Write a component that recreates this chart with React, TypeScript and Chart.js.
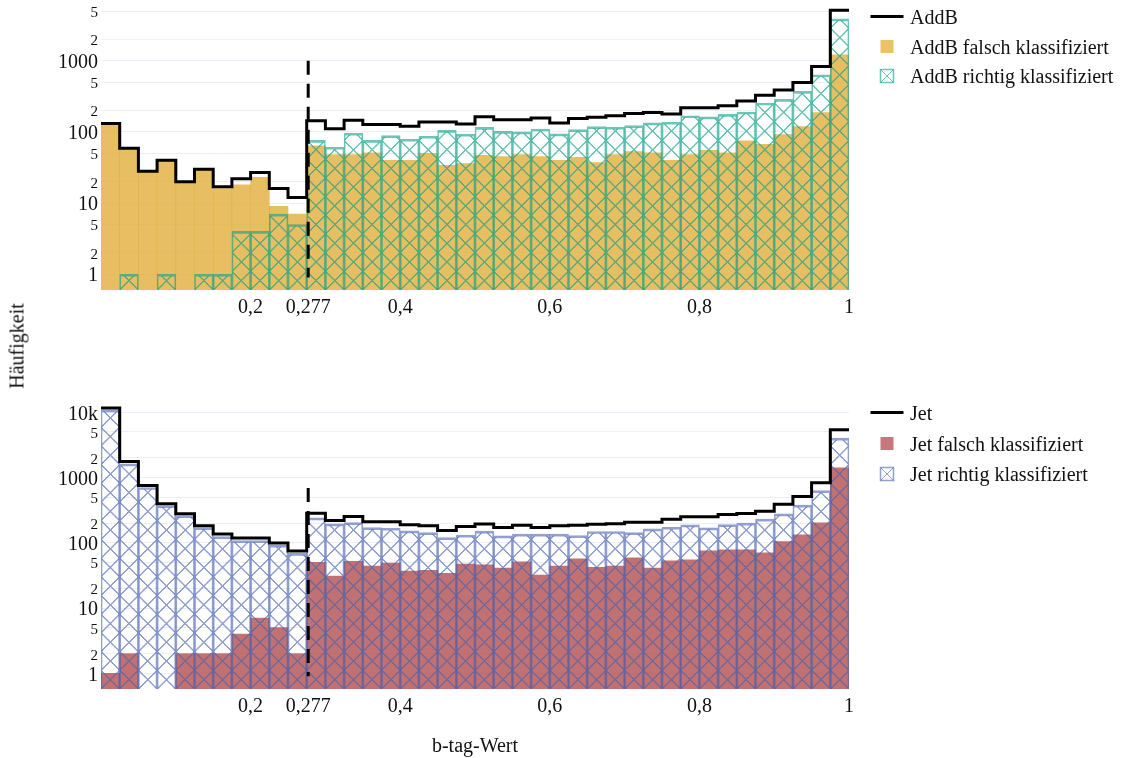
import React, { useEffect, useRef } from "react";
import { Chart, registerables } from "chart.js";

Chart.register(...registerables);

const FONT = "'Liberation Serif', 'Times New Roman', Times, serif";

// Histogram bins (width 0.025), given by their centres
const binCenters = [
  0.0125, 0.0375, 0.0625, 0.0875, 0.1125, 0.1375, 0.1625, 0.1875, 0.2125, 0.2375,
  0.2625, 0.2875, 0.3125, 0.3375, 0.3625, 0.3875, 0.4125, 0.4375, 0.4625, 0.4875,
  0.5125, 0.5375, 0.5625, 0.5875, 0.6125, 0.6375, 0.6625, 0.6875, 0.7125, 0.7375,
  0.7625, 0.7875, 0.8125, 0.8375, 0.8625, 0.8875, 0.9125, 0.9375, 0.9625, 0.9875,
];
const binHalfWidth = 0.0125;

// AddB (top panel)
const addbFalsch = [
  131, 58, 28, 39, 20, 29, 16, 18, 23, 9, 7,
  64, 48, 48, 51, 40, 40, 50, 34,
  36, 47, 45, 48, 45, 40, 44, 37, 48, 53, 51, 40, 48, 55, 51, 75, 67, 92, 119, 187, 1214,
];
const addbRichtig = [
  0, 1, 0, 1, 0, 1, 1, 4, 4, 7, 5,
  76, 61, 96, 76, 89, 79, 87, 105,
  93, 116, 102, 100, 110, 94, 108, 119, 117, 123, 134, 137, 169, 163, 177, 191, 255, 287, 372, 637, 3880,
];
const addbTotal = [
  131, 59, 28, 40, 20, 30, 17, 22, 27, 16, 12,
  144, 111, 146, 127, 127, 120, 138, 138,
  129, 164, 149, 149, 157, 134, 155, 161, 169, 181, 187, 179, 219, 219, 234, 272, 327, 388, 497, 832, 5140,
];

// Jet (bottom panel)
const jetFalsch = [
  1, 2, 0, 0, 2, 2, 2, 4, 7, 5, 2,
  50, 31, 52, 44, 49, 37,
  38, 34, 47, 46, 41, 51, 32, 44, 57, 42, 44, 59, 41, 53, 55, 75, 78, 78, 70, 104, 132, 202, 1410,
];
const jetRichtig = [
  10900, 1620, 703, 372, 261, 171, 124, 108, 108, 92, 69,
  241, 195, 204, 171, 167, 152,
  143, 120, 131, 151, 128, 136, 136, 136, 129, 149, 149, 143, 163, 173, 188, 169, 190, 200, 230, 277, 377, 632, 4020,
];
const jetTotal = [
  11600, 1760, 754, 395, 278, 182, 136, 118, 118, 99, 75,
  284, 219, 252, 211, 211, 189,
  182, 154, 177, 195, 171, 186, 171, 182, 186, 193, 196, 207, 207, 230, 250, 250, 271, 281, 305, 391, 511, 829, 5390,
];

const xTickValues = [0.2, 0.277, 0.4, 0.6, 0.8, 1];
const xTickLabels = ["0,2", "0,277", "0,4", "0,6", "0,8", "1"];
const yTicksTop = [1, 2, 5, 10, 20, 50, 100, 200, 500, 1000, 2000, 5000];
const yTicksBottom = [1, 2, 5, 10, 20, 50, 100, 200, 500, 1000, 2000, 5000, 10000];
const threshold = 0.277;

type PanelSpec = {
  top: number;
  height: number;
  xAxisHeight: number;
  padBottom: number;
  yMin: number;
  yMax: number;
  yTicks: number[];
  falsch: number[];
  richtig: number[];
  total: number[];
  names: string[];
  falschColor: string;
  falschLegendColor: string;
  richtigColor: string;
  legendRows: number[];
  dashTop: number;
  dashBottom: number;
  xTitle: string | null;
};

const panels: PanelSpec[] = [
  {
    top: 0,
    height: 330,
    xAxisHeight: 40,
    padBottom: 0,
    yMin: Math.pow(10, -0.2103),
    yMax: Math.pow(10, 3.855),
    yTicks: yTicksTop,
    falsch: addbFalsch,
    richtig: addbRichtig,
    total: addbTotal,
    names: ["AddB", "AddB falsch klassifiziert", "AddB richtig klassifiziert"],
    falschColor: "rgba(226,174,59,0.8)",
    falschLegendColor: "rgb(234,194,104)",
    richtigColor: "rgba(18,161,136,0.62)",
    legendRows: [16.5, 46.5, 76],
    dashTop: 1000,
    dashBottom: 0.9,
    xTitle: null,
  },
  {
    top: 400,
    height: 360,
    xAxisHeight: 70,
    padBottom: 1,
    yMin: Math.pow(10, -0.2406),
    yMax: Math.pow(10, 4.1885),
    yTicks: yTicksBottom,
    falsch: jetFalsch,
    richtig: jetRichtig,
    total: jetTotal,
    names: ["Jet", "Jet falsch klassifiziert", "Jet richtig klassifiziert"],
    falschColor: "rgba(178,78,78,0.8)",
    falschLegendColor: "rgb(199,120,124)",
    richtigColor: "rgba(73,98,177,0.6)",
    legendRows: [12.5, 43.5, 74],
    dashTop: 690,
    dashBottom: 0.9,
    xTitle: "b-tag-Wert",
  },
];

const isPow10 = (v: number) => Math.abs(Math.log10(v) - Math.round(Math.log10(v))) < 1e-9;
const yLabel = (v: number) => {
  if (v >= 10000 && isPow10(v)) return String(v / 1000) + "k";
  if (isPow10(v)) return String(v);
  return String(Math.round(v / Math.pow(10, Math.floor(Math.log10(v) + 1e-9))));
};

const legendPlugin = {
  id: "customLegend",
  afterDraw(chart: any, _args: any, opts: any) {
    const { ctx, chartArea } = chart;
    const x0 = chartArea.right;
    const rows: number[] = opts.rows;
    ctx.save();
    // line entry
    ctx.beginPath();
    ctx.moveTo(x0 + 21.5, rows[0]);
    ctx.lineTo(x0 + 54.5, rows[0]);
    ctx.lineWidth = 3;
    ctx.strokeStyle = "#000";
    ctx.stroke();
    // filled square
    ctx.fillStyle = opts.falschColor;
    ctx.fillRect(x0 + 31.5, rows[1] - 6.5, 13, 13);
    // hatched square
    ctx.strokeStyle = opts.richtigColor;
    ctx.lineWidth = 1.5;
    const sx = x0 + 31.5, sy = rows[2] - 6.5;
    ctx.strokeRect(sx, sy, 13, 13);
    ctx.beginPath();
    ctx.moveTo(sx, sy);
    ctx.lineTo(sx + 13, sy + 13);
    ctx.moveTo(sx + 13, sy);
    ctx.lineTo(sx, sy + 13);
    ctx.lineWidth = 1;
    ctx.stroke();
    // texts
    ctx.fillStyle = "#111";
    ctx.font = `20px ${FONT}`;
    ctx.textBaseline = "middle";
    ctx.textAlign = "left";
    opts.names.forEach((n: string, i: number) => ctx.fillText(n, x0 + 61, rows[i] + 2));
    ctx.restore();
  },
};

const thresholdPlugin = {
  id: "thresholdLine",
  afterDatasetsDraw(chart: any, _args: any, opts: any) {
    const { ctx, scales } = chart;
    const x = scales.x.getPixelForValue(opts.x);
    const y1 = scales.y.getPixelForValue(opts.top);
    const y2 = scales.y.getPixelForValue(opts.bottom);
    ctx.save();
    ctx.beginPath();
    ctx.setLineDash([14, 9]);
    ctx.moveTo(x, y1);
    ctx.lineTo(x, y2);
    ctx.lineWidth = 3;
    ctx.strokeStyle = "#000";
    ctx.stroke();
    ctx.restore();
  },
};

function Panel({ spec }: { spec: PanelSpec }) {
  const ref = useRef<HTMLCanvasElement>(null);

  useEffect(() => {
    const canvas = ref.current!;
    let hatchCache: CanvasPattern | null = null;
    const hatch = (chart: any) => {
      if (hatchCache) return hatchCache;
      const ca = chart.chartArea;
      if (!ca) return "transparent";
      const cell = (ca.right - ca.left) / binCenters.length;
      const S = 64;
      const tile = document.createElement("canvas");
      tile.width = S;
      tile.height = S;
      const g = tile.getContext("2d")!;
      g.strokeStyle = spec.richtigColor;
      g.lineWidth = (1.4 * S) / cell;
      g.beginPath();
      for (const d of [-S, 0, S]) {
        g.moveTo(d, 0);
        g.lineTo(d + S, S);
        g.moveTo(d + S, 0);
        g.lineTo(d, S);
      }
      g.stroke();
      const p = chart.ctx.createPattern(tile, "repeat") as CanvasPattern;
      p.setTransform(new DOMMatrix().translate(ca.left, ca.bottom).scale(cell / S));
      hatchCache = p;
      return p;
    };

    const barPts = (arr: number[]) =>
      binCenters.map((c, i) => ({ x: c, y: arr[i] > 0 ? arr[i] : null }));
    const stepPts = [
      ...binCenters.map((c, i) => ({ x: c - binHalfWidth, y: spec.total[i] })),
      { x: binCenters[binCenters.length - 1] + binHalfWidth, y: spec.total[spec.total.length - 1] },
    ];

    const chart = new Chart(canvas, {
      type: "bar",
      data: {
        datasets: [
          {
            type: "line",
            label: spec.names[0],
            data: stepPts as any,
            stepped: "before",
            borderColor: "#000",
            borderWidth: 3,
            pointRadius: 0,
            fill: false,
            tension: 0,
            borderJoinStyle: "miter",
            order: 0,
          } as any,
          {
            type: "bar",
            label: spec.names[2],
            data: barPts(spec.richtig) as any,
            backgroundColor: (c: any) => hatch(c.chart),
            borderColor: spec.richtigColor,
            borderWidth: { top: 2, left: 1, right: 1, bottom: 0 },
            borderSkipped: false,
            grouped: false,
            barPercentage: 1,
            categoryPercentage: 1,
            order: 1,
          } as any,
          {
            type: "bar",
            label: spec.names[1],
            data: barPts(spec.falsch) as any,
            backgroundColor: spec.falschColor,
            borderWidth: 0,
            grouped: false,
            barPercentage: 1,
            categoryPercentage: 1,
            order: 2,
          } as any,
        ],
      },
      options: {
        responsive: false,
        animation: false,
        events: [],
        layout: { padding: { left: 0, right: 274, top: 0, bottom: spec.padBottom } },
        plugins: {
          legend: { display: false },
          tooltip: { enabled: false },
          customLegend: {
            rows: spec.legendRows,
            names: spec.names,
            falschColor: spec.falschLegendColor,
            richtigColor: spec.richtigColor,
          },
          thresholdLine: { x: threshold, top: spec.dashTop, bottom: spec.dashBottom },
        } as any,
        scales: {
          x: {
            type: "linear",
            min: 0,
            max: 1,
            offset: false,
            grid: { display: false, drawTicks: false },
            border: { display: false },
            afterBuildTicks: (s: any) => {
              s.ticks = xTickValues.map((v) => ({ value: v }));
            },
            afterFit: (s: any) => {
              s.height = spec.xAxisHeight;
              s.paddingLeft = 0;
              s.paddingRight = 0;
            },
            ticks: {
              autoSkip: false,
              maxRotation: 0,
              padding: 6,
              color: "#111",
              font: { family: FONT, size: 20 },
              callback: (v: any) => {
                const i = xTickValues.indexOf(Number(v));
                return i >= 0 ? xTickLabels[i] : "";
              },
            },
            title: spec.xTitle
              ? {
                  display: true,
                  text: spec.xTitle,
                  color: "#111",
                  font: { family: FONT, size: 20 },
                  padding: { top: 0, bottom: 0 },
                }
              : { display: false },
          },
          y: {
            type: "logarithmic",
            min: spec.yMin,
            max: spec.yMax,
            grid: { color: "#EBF0F8", lineWidth: 1, drawTicks: false },
            border: { display: false },
            afterBuildTicks: (s: any) => {
              s.ticks = spec.yTicks.map((v) => ({ value: v }));
            },
            afterFit: (s: any) => {
              s.width = 101;
              s.paddingTop = 0;
              s.paddingBottom = 0;
            },
            ticks: {
              autoSkip: false,
              padding: 3,
              labelOffset: 2,
              color: "#111",
              font: (c: any) => ({
                family: FONT,
                size: c.tick && isPow10(c.tick.value) ? 20 : 15,
              }),
              callback: (v: any) => yLabel(Number(v)),
            },
          },
        },
      },
      plugins: [legendPlugin, thresholdPlugin],
    } as any);

    return () => chart.destroy();
  }, [spec]);

  return (
    <canvas
      ref={ref}
      width={1123}
      height={spec.height}
      style={{ position: "absolute", left: 0, top: spec.top, display: "block" }}
    />
  );
}

export default function App() {
  return (
    <div
      style={{
        position: "absolute",
        left: 0,
        top: 0,
        width: 1123,
        height: 758,
        background: "#fff",
        overflow: "hidden",
      }}
    >
      <Panel spec={panels[0]} />
      <Panel spec={panels[1]} />
      <div
        style={{
          position: "absolute",
          left: 17,
          top: 346,
          transform: "translate(-50%, -50%) rotate(-90deg)",
          fontFamily: FONT,
          fontSize: 20,
          color: "#111",
          whiteSpace: "nowrap",
        }}
      >
        Häufigkeit
      </div>
    </div>
  );
}
